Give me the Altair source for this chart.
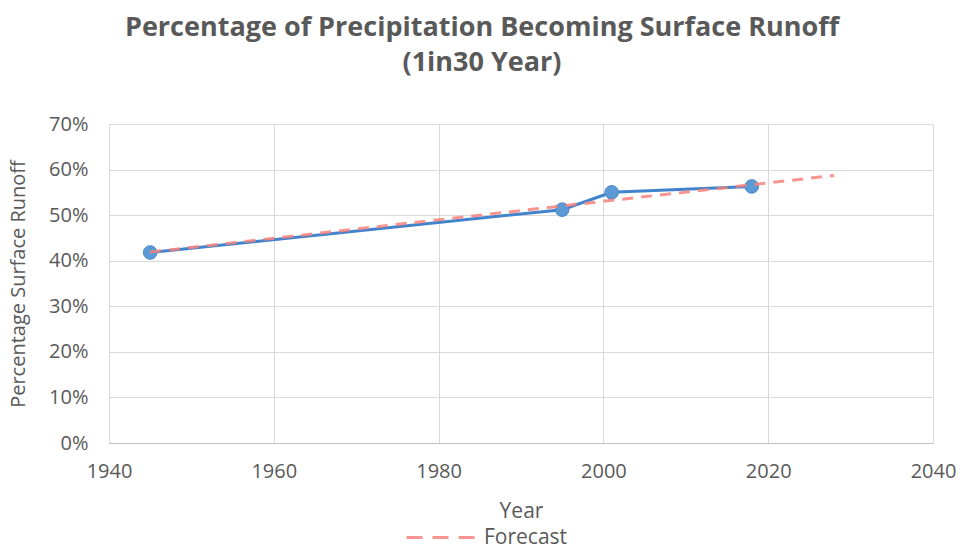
import altair as alt
import pandas as pd

years = [1945, 1995, 2001, 2018]
runoff = [0.418, 0.512, 0.550, 0.563]

# Linear forecast trend line endpoints
forecast_years = [1945, 2028]
forecast_runoff = [0.419, 0.587]

x_ticks = [1940, 1960, 1980, 2000, 2020, 2040]
y_ticks = [0.0, 0.1, 0.2, 0.3, 0.4, 0.5, 0.6, 0.7]

title_text = "Percentage of Precipitation Becoming Surface Runoff"
subtitle_text = "(1in30 Year)"

obs = pd.DataFrame({"Year": years, "Runoff": runoff})
fc = pd.DataFrame({"Year": forecast_years, "Runoff": forecast_runoff,
                   "Series": ["Forecast"] * len(forecast_years)})

FONT = "Open Sans"
GREY = "#595959"

x_enc = alt.X("Year:Q",
              scale=alt.Scale(domain=[1940, 2040], nice=False, zero=False),
              axis=alt.Axis(values=x_ticks, format="d", title="Year"))
y_enc = alt.Y("Runoff:Q",
              scale=alt.Scale(domain=[0, 0.7], nice=False),
              axis=alt.Axis(values=y_ticks, format=".0%", title="Percentage Surface Runoff"))

line = alt.Chart(obs).mark_line(color="#4183CC", strokeWidth=3).encode(x=x_enc, y=y_enc)
pts = alt.Chart(obs).mark_point(filled=True, size=185, color="#5B9BD5", opacity=1,
                                stroke="#4A85C5", strokeWidth=1).encode(x=x_enc, y=y_enc)

forecast = alt.Chart(fc).mark_line(strokeWidth=3, strokeDash=[11, 8], opacity=0.85).encode(
    x=x_enc, y=y_enc,
    color=alt.Color("Series:N", scale=alt.Scale(domain=["Forecast"], range=["#F7837D"]),
                    legend=alt.Legend(title=None, orient="none", legendX=296, legendY=377,
                                      symbolType="stroke", symbolSize=4900,
                                      symbolStrokeWidth=3, symbolDash=[16, 10],
                                      labelFontSize=21, labelColor=GREY, labelFont=FONT,
                                      labelOffset=6))
)

chart = alt.layer(line, pts, forecast).properties(
    width=824, height=319,
    background="white",
    autosize=alt.AutoSizeParams(type="none"),
    padding={"left": 101, "top": 116, "right": 24, "bottom": 110},
    title=alt.TitleParams(text=title_text, subtitle=subtitle_text,
                          anchor="middle", dx=-39, offset=37,
                          fontSize=27, font=FONT, fontWeight="bold", color=GREY,
                          subtitleFontSize=27, subtitleFont=FONT, subtitleFontWeight="bold",
                          subtitleColor=GREY, subtitlePadding=8),
).configure_axis(
    labelFont=FONT, titleFont=FONT, labelFontSize=20, titleFontSize=20,
    labelColor=GREY, titleColor=GREY, titleFontWeight="normal",
    gridColor="#D9D9D9", gridWidth=1, ticks=False,
).configure_axisX(
    domainColor="#BFBFBF", labelPadding=18, titlePadding=19, labelFlush=False,
    titleFontSize=21,
).configure_axisY(
    domain=False, labelPadding=21, titlePadding=20,
).configure_view(strokeWidth=0)

chart.save("out.html", embed_options={"renderer": "svg", "actions": False})
